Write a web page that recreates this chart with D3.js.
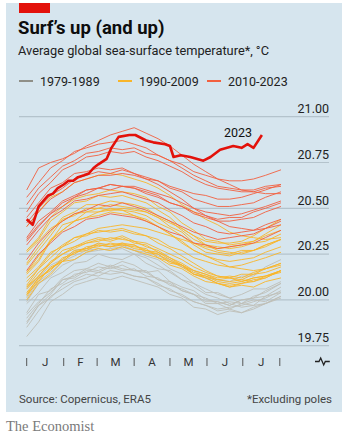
<!DOCTYPE html>
<html>
<head>
<meta charset="utf-8">
<script src="https://cdn.jsdelivr.net/npm/d3@7"></script>
<style>
  body { margin: 0; background: #fff; }
  text { font-family: Roboto, "Noto Sans", sans-serif; }
</style>
</head>
<body>
<div id="chart"></div>
<script>
// day of year for the sampled values (0 = Jan 1st)
const days = [0, 10, 20, 30, 40, 50, 60, 70, 80, 90, 100, 110, 120, 130, 140, 150, 160, 170, 180, 190, 200, 213];

// 1979-1989
const sst1979_1989 = [
  [19.93, 20.03, 20.05, 20.12, 20.16, 20.17, 20.20, 20.18, 20.21, 20.19, 20.15, 20.16, 20.10, 20.07, 20.05, 20.00, 19.99, 19.97, 20.00, 20.01, 20.02, 20.07],
  [19.98, 20.04, 20.12, 20.15, 20.20, 20.21, 20.25, 20.23, 20.22, 20.25, 20.20, 20.17, 20.16, 20.11, 20.09, 20.04, 20.04, 20.01, 20.03, 20.06, 20.06, 20.10],
  [19.90, 19.98, 20.06, 20.09, 20.14, 20.15, 20.18, 20.17, 20.19, 20.16, 20.16, 20.11, 20.10, 20.05, 20.03, 19.98, 19.98, 19.95, 19.98, 19.97, 20.02, 20.04],
  [19.88, 19.97, 20.03, 20.11, 20.12, 20.16, 20.15, 20.18, 20.16, 20.17, 20.13, 20.12, 20.08, 20.06, 20.03, 20.01, 19.98, 19.99, 19.98, 20.02, 20.04, 20.09],
  [20.06, 20.12, 20.19, 20.22, 20.27, 20.28, 20.31, 20.29, 20.30, 20.27, 20.24, 20.22, 20.17, 20.14, 20.09, 20.06, 20.03, 20.01, 19.98, 20.00, 19.99, 20.04],
  [19.87, 19.97, 20.01, 20.08, 20.11, 20.14, 20.13, 20.16, 20.15, 20.13, 20.12, 20.08, 20.06, 20.02, 19.99, 19.97, 19.94, 19.95, 19.93, 19.96, 19.98, 20.02],
  [19.80, 19.88, 19.99, 20.03, 20.08, 20.10, 20.12, 20.11, 20.13, 20.11, 20.09, 20.07, 20.03, 20.01, 19.96, 19.95, 19.92, 19.94, 19.93, 19.95, 19.98, 20.01],
  [19.92, 19.99, 20.04, 20.11, 20.13, 20.17, 20.16, 20.19, 20.17, 20.16, 20.15, 20.11, 20.09, 20.05, 20.03, 19.99, 19.99, 19.97, 20.00, 20.01, 20.05, 20.09],
  [19.99, 20.09, 20.13, 20.19, 20.22, 20.26, 20.27, 20.28, 20.29, 20.27, 20.26, 20.24, 20.22, 20.18, 20.16, 20.12, 20.11, 20.10, 20.13, 20.13, 20.18, 20.22],
  [20.01, 20.10, 20.15, 20.21, 20.24, 20.27, 20.28, 20.27, 20.28, 20.25, 20.23, 20.19, 20.15, 20.11, 20.07, 20.03, 20.01, 19.98, 19.96, 19.97, 19.98, 20.02],
  [19.85, 19.94, 20.02, 20.06, 20.10, 20.12, 20.15, 20.14, 20.15, 20.13, 20.12, 20.09, 20.05, 20.03, 19.99, 19.97, 19.95, 19.96, 19.97, 19.99, 20.01, 20.05]
];

// 1990-2009
const sst1990_2009 = [
  [20.03, 20.10, 20.18, 20.21, 20.26, 20.28, 20.29, 20.31, 20.30, 20.29, 20.28, 20.23, 20.21, 20.18, 20.14, 20.12, 20.09, 20.08, 20.09, 20.11, 20.12, 20.16],
  [20.04, 20.12, 20.16, 20.23, 20.25, 20.29, 20.30, 20.29, 20.31, 20.28, 20.27, 20.25, 20.20, 20.19, 20.15, 20.13, 20.11, 20.12, 20.11, 20.14, 20.15, 20.18],
  [20.07, 20.13, 20.21, 20.25, 20.29, 20.31, 20.33, 20.32, 20.34, 20.31, 20.30, 20.26, 20.23, 20.19, 20.14, 20.12, 20.09, 20.07, 20.08, 20.07, 20.10, 20.12],
  [20.00, 20.09, 20.14, 20.21, 20.22, 20.26, 20.28, 20.27, 20.29, 20.27, 20.25, 20.23, 20.19, 20.17, 20.13, 20.10, 20.09, 20.07, 20.09, 20.10, 20.12, 20.16],
  [20.02, 20.11, 20.17, 20.21, 20.26, 20.27, 20.30, 20.29, 20.30, 20.30, 20.26, 20.25, 20.21, 20.19, 20.16, 20.14, 20.12, 20.13, 20.12, 20.15, 20.17, 20.20],
  [20.12, 20.18, 20.26, 20.29, 20.34, 20.35, 20.38, 20.37, 20.38, 20.36, 20.35, 20.31, 20.28, 20.24, 20.20, 20.16, 20.13, 20.12, 20.10, 20.12, 20.13, 20.16],
  [20.03, 20.12, 20.17, 20.22, 20.27, 20.28, 20.31, 20.30, 20.31, 20.30, 20.27, 20.26, 20.22, 20.19, 20.14, 20.13, 20.10, 20.09, 20.10, 20.12, 20.13, 20.16],
  [20.10, 20.17, 20.25, 20.30, 20.34, 20.36, 20.39, 20.40, 20.41, 20.40, 20.39, 20.37, 20.35, 20.33, 20.31, 20.29, 20.28, 20.29, 20.30, 20.32, 20.36, 20.41],
  [20.40, 20.48, 20.56, 20.59, 20.64, 20.66, 20.68, 20.69, 20.68, 20.66, 20.64, 20.61, 20.57, 20.52, 20.48, 20.44, 20.41, 20.37, 20.35, 20.34, 20.33, 20.34],
  [20.06, 20.13, 20.20, 20.25, 20.28, 20.31, 20.32, 20.34, 20.33, 20.32, 20.29, 20.27, 20.23, 20.20, 20.16, 20.14, 20.11, 20.10, 20.11, 20.10, 20.13, 20.15],
  [20.07, 20.15, 20.20, 20.27, 20.29, 20.32, 20.34, 20.33, 20.35, 20.32, 20.31, 20.28, 20.25, 20.22, 20.18, 20.15, 20.13, 20.12, 20.14, 20.14, 20.17, 20.20],
  [20.15, 20.22, 20.33, 20.38, 20.43, 20.45, 20.46, 20.48, 20.47, 20.46, 20.44, 20.40, 20.36, 20.32, 20.27, 20.24, 20.22, 20.21, 20.22, 20.23, 20.26, 20.29],
  [20.20, 20.29, 20.37, 20.45, 20.48, 20.52, 20.52, 20.54, 20.53, 20.52, 20.50, 20.46, 20.43, 20.38, 20.33, 20.30, 20.29, 20.28, 20.29, 20.31, 20.32, 20.36],
  [20.27, 20.33, 20.43, 20.48, 20.53, 20.54, 20.57, 20.56, 20.57, 20.55, 20.53, 20.49, 20.45, 20.39, 20.35, 20.30, 20.27, 20.26, 20.25, 20.27, 20.29, 20.33],
  [20.19, 20.27, 20.35, 20.44, 20.46, 20.50, 20.50, 20.52, 20.51, 20.50, 20.48, 20.45, 20.40, 20.37, 20.31, 20.28, 20.26, 20.25, 20.27, 20.27, 20.30, 20.33],
  [20.27, 20.34, 20.45, 20.51, 20.55, 20.57, 20.58, 20.60, 20.59, 20.58, 20.56, 20.51, 20.48, 20.42, 20.38, 20.33, 20.32, 20.30, 20.31, 20.32, 20.35, 20.38],
  [20.15, 20.24, 20.32, 20.41, 20.43, 20.48, 20.48, 20.50, 20.49, 20.48, 20.46, 20.42, 20.39, 20.35, 20.30, 20.26, 20.25, 20.24, 20.26, 20.27, 20.30, 20.33],
  [20.26, 20.32, 20.39, 20.43, 20.47, 20.48, 20.50, 20.49, 20.49, 20.46, 20.43, 20.40, 20.36, 20.31, 20.27, 20.24, 20.21, 20.18, 20.17, 20.16, 20.17, 20.19],
  [20.08, 20.17, 20.23, 20.29, 20.32, 20.36, 20.37, 20.38, 20.39, 20.37, 20.35, 20.33, 20.29, 20.27, 20.23, 20.21, 20.19, 20.18, 20.19, 20.21, 20.23, 20.26],
  [20.14, 20.21, 20.32, 20.38, 20.43, 20.45, 20.48, 20.49, 20.50, 20.49, 20.48, 20.45, 20.42, 20.39, 20.35, 20.32, 20.31, 20.31, 20.32, 20.35, 20.39, 20.44]
];

// 2010-2022
const sst2010_2022 = [
  [20.45, 20.53, 20.61, 20.64, 20.69, 20.70, 20.72, 20.71, 20.72, 20.69, 20.66, 20.63, 20.59, 20.55, 20.50, 20.46, 20.43, 20.40, 20.39, 20.38, 20.39, 20.41],
  [20.16, 20.25, 20.31, 20.37, 20.40, 20.44, 20.45, 20.47, 20.46, 20.45, 20.43, 20.40, 20.37, 20.35, 20.31, 20.30, 20.28, 20.29, 20.30, 20.31, 20.34, 20.38],
  [20.22, 20.31, 20.38, 20.43, 20.47, 20.49, 20.52, 20.51, 20.53, 20.51, 20.49, 20.46, 20.43, 20.40, 20.37, 20.35, 20.33, 20.34, 20.35, 20.36, 20.39, 20.43],
  [20.30, 20.38, 20.45, 20.49, 20.54, 20.55, 20.57, 20.58, 20.59, 20.57, 20.55, 20.53, 20.49, 20.46, 20.42, 20.40, 20.37, 20.36, 20.37, 20.38, 20.41, 20.44],
  [20.33, 20.41, 20.47, 20.53, 20.56, 20.60, 20.61, 20.63, 20.62, 20.62, 20.60, 20.58, 20.56, 20.53, 20.50, 20.48, 20.47, 20.46, 20.47, 20.49, 20.51, 20.54],
  [20.40, 20.48, 20.55, 20.59, 20.64, 20.66, 20.68, 20.68, 20.69, 20.68, 20.66, 20.65, 20.62, 20.60, 20.58, 20.57, 20.55, 20.55, 20.56, 20.58, 20.60, 20.63],
  [20.60, 20.72, 20.75, 20.77, 20.80, 20.84, 20.87, 20.90, 20.92, 20.94, 20.91, 20.88, 20.84, 20.79, 20.74, 20.70, 20.66, 20.63, 20.60, 20.59, 20.58, 20.58],
  [20.48, 20.58, 20.64, 20.71, 20.74, 20.78, 20.79, 20.81, 20.80, 20.81, 20.78, 20.76, 20.73, 20.70, 20.66, 20.63, 20.61, 20.60, 20.59, 20.59, 20.61, 20.62],
  [20.42, 20.50, 20.57, 20.61, 20.66, 20.68, 20.70, 20.69, 20.71, 20.69, 20.67, 20.65, 20.61, 20.59, 20.55, 20.53, 20.51, 20.51, 20.52, 20.53, 20.56, 20.59],
  [20.52, 20.61, 20.67, 20.73, 20.76, 20.80, 20.81, 20.83, 20.82, 20.83, 20.80, 20.79, 20.76, 20.74, 20.70, 20.68, 20.66, 20.65, 20.65, 20.66, 20.68, 20.71],
  [20.56, 20.64, 20.72, 20.76, 20.81, 20.83, 20.85, 20.86, 20.87, 20.85, 20.83, 20.79, 20.76, 20.72, 20.68, 20.65, 20.62, 20.61, 20.60, 20.60, 20.62, 20.63],
  [20.32, 20.40, 20.47, 20.51, 20.56, 20.58, 20.61, 20.60, 20.62, 20.61, 20.58, 20.56, 20.53, 20.51, 20.47, 20.45, 20.43, 20.43, 20.44, 20.45, 20.48, 20.51],
  [20.34, 20.43, 20.48, 20.54, 20.57, 20.60, 20.61, 20.63, 20.62, 20.61, 20.59, 20.57, 20.53, 20.51, 20.48, 20.46, 20.44, 20.45, 20.45, 20.48, 20.50, 20.53]
];

// 2023, read more finely
const days2023 = [0, 5, 10, 14, 18, 22, 26, 31, 35, 39, 43, 48, 52, 56, 60, 67, 71, 77, 86, 91, 100, 106, 116, 120, 123, 129, 137, 148, 154, 162, 173, 180, 185, 190, 197];
const sst2023 = [20.44, 20.41, 20.51, 20.54, 20.57, 20.58, 20.61, 20.63, 20.65, 20.65, 20.67, 20.68, 20.69, 20.72, 20.74, 20.77, 20.83, 20.89, 20.90, 20.90, 20.87, 20.86, 20.85, 20.84, 20.78, 20.79, 20.78, 20.76, 20.78, 20.82, 20.84, 20.83, 20.85, 20.83, 20.90];

const yTicks = [19.75, 20.00, 20.25, 20.50, 20.75, 21.00];
const monthStarts = [0, 31, 59, 90, 120, 151, 181, 212];
const monthLabels = ["J", "F", "M", "A", "M", "J", "J"];
const legendLabels = ["1979-1989", "1990-2009", "2010-2023"];

const colors = { gray: "#bebeb7", yellow: "#f8b52a", red: "#f2603f", hot: "#e3120b" };

const svg = d3.select("#chart").append("svg")
  .attr("width", 352)
  .attr("height", 436);

// panel
svg.append("rect").attr("x", 6).attr("y", 3).attr("width", 336).attr("height", 409).attr("fill", "#d6e5ee");
svg.append("rect").attr("x", 19).attr("y", 3).attr("width", 31).attr("height", 10).attr("fill", "#e3120b");

svg.append("text").attr("x", 18).attr("y", 34)
  .attr("font-size", "18.5px").attr("font-weight", "bold").attr("fill", "#0d0d0d")
  .text("Surf’s up (and up)");
svg.append("text").attr("x", 18).attr("y", 55)
  .attr("font-size", "12.8px").attr("fill", "#222")
  .text("Average global sea-surface temperature*, °C");

// legend
const legendX = [19, 118, 207];
const legendColors = ["#8f8f88", colors.yellow, colors.red];
legendLabels.forEach((lab, i) => {
  svg.append("line")
    .attr("x1", legendX[i]).attr("x2", legendX[i] + 14)
    .attr("y1", 81).attr("y2", 81)
    .attr("stroke", legendColors[i]).attr("stroke-width", 2);
  svg.append("text").attr("x", legendX[i] + 21).attr("y", 85.5)
    .attr("font-size", "12.5px").attr("fill", "#222")
    .text(lab);
});

const x = d3.scaleLinear().domain([0, 212]).range([26.7, 279.8]);
const y = d3.scaleLinear().domain([19.75, 21.0]).range([345.7, 116.7]);

// gridlines + labels
svg.append("g").selectAll("line")
  .data(yTicks).enter().append("line")
  .attr("x1", 19).attr("x2", 329)
  .attr("y1", d => y(d)).attr("y2", d => y(d))
  .attr("stroke", "#b4c3cc").attr("stroke-width", 1.2);

svg.append("g").selectAll("text")
  .data(yTicks).enter().append("text")
  .attr("x", 329).attr("y", d => y(d) - 3.8)
  .attr("text-anchor", "end")
  .attr("font-size", "12.5px").attr("fill", "#222")
  .text(d => d3.format(".2f")(d));

// month axis
svg.append("g").selectAll("line")
  .data(monthStarts).enter().append("line")
  .attr("x1", d => x(d)).attr("x2", d => x(d))
  .attr("y1", 358).attr("y2", 366)
  .attr("stroke", "#555").attr("stroke-width", 1);

svg.append("g").selectAll("text")
  .data(monthLabels).enter().append("text")
  .attr("x", (d, i) => (x(monthStarts[i]) + x(monthStarts[i + 1])) / 2)
  .attr("y", 366)
  .attr("text-anchor", "middle")
  .attr("font-size", "11.5px").attr("fill", "#333")
  .text(d => d);

// little squiggle at the end of the axis
svg.append("path")
  .attr("d", "M315,361.5 h4 l1.7,-3.5 l3,7 l1.6,-3.5 h4.5")
  .attr("fill", "none").attr("stroke", "#222").attr("stroke-width", 1.3);

// lines
const line = d3.line()
  .x((d, i) => x(days[i]))
  .y(d => y(d));

const groups = [
  { data: sst1979_1989, color: colors.gray },
  { data: sst1990_2009, color: colors.yellow },
  { data: sst2010_2022, color: colors.red }
];

groups.forEach(grp => {
  svg.append("g").selectAll("path")
    .data(grp.data).enter().append("path")
    .attr("fill", "none")
    .attr("stroke", grp.color)
    .attr("stroke-width", 0.9)
    .attr("d", line);
});

const line2023 = d3.line()
  .x((d, i) => x(days2023[i]))
  .y(d => y(d));

svg.append("path")
  .datum(sst2023)
  .attr("fill", "none")
  .attr("stroke", colors.hot)
  .attr("stroke-width", 2.6)
  .attr("stroke-linejoin", "round")
  .attr("d", line2023);

svg.append("text").attr("x", 238).attr("y", 136.5)
  .attr("text-anchor", "middle")
  .attr("font-size", "12.5px").attr("fill", "#111")
  .text("2023");

// footer
svg.append("text").attr("x", 19).attr("y", 403)
  .attr("font-size", "11.5px").attr("fill", "#444")
  .text("Source: Copernicus, ERA5");
svg.append("text").attr("x", 332).attr("y", 403)
  .attr("text-anchor", "end")
  .attr("font-size", "11.5px").attr("fill", "#444")
  .text("*Excluding poles");

svg.append("text").attr("x", 6).attr("y", 431)
  .attr("style", "font-family: 'Liberation Serif', 'DejaVu Serif', serif")
  .attr("font-size", "14.5px").attr("fill", "#7a7a7a")
  .text("The Economist");
</script>
</body>
</html>
